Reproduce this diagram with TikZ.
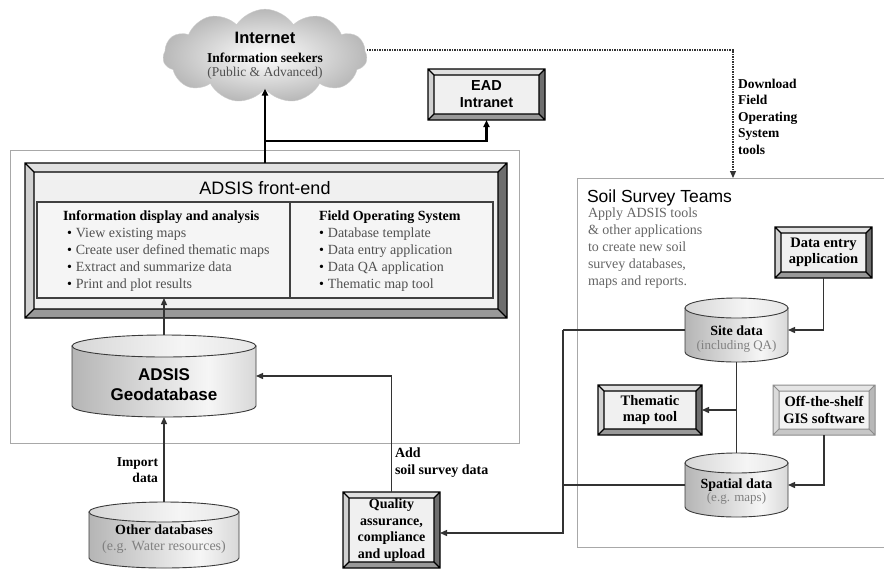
\documentclass[tikz,border=0pt]{standalone}
\usepackage{fontspec}
\setmainfont{Liberation Serif}
\setsansfont{Liberation Sans}
\usetikzlibrary{arrows.meta,calc,shapes.symbols}
\definecolor{lineg}{HTML}{333333}
\definecolor{frameg}{HTML}{A8A8A8}
\definecolor{txtg}{HTML}{505050}
\definecolor{descg}{HTML}{666666}
\definecolor{lightg}{HTML}{808080}
\definecolor{cloudg}{HTML}{B8B8B8}
\definecolor{cylline}{HTML}{3A3A3A}
\definecolor{cA}{HTML}{8A8A8A}
\definecolor{cB}{HTML}{B5B5B5}
\definecolor{cC}{HTML}{F6F6F6}
\definecolor{cD}{HTML}{9E9E9E}
\definecolor{tA}{HTML}{BDBDBD}
\definecolor{tB}{HTML}{F5F5F5}
\definecolor{tC}{HTML}{D2D2D2}
\pgfdeclarehorizontalshading{cylbody}{100bp}{color(0bp)=(cA); color(25bp)=(cB); color(62bp)=(cC); color(100bp)=(cD)}
\pgfdeclarehorizontalshading{cyltop}{100bp}{color(0bp)=(tA); color(55bp)=(tB); color(100bp)=(tC)}
\newcommand{\fsz}[2]{\fontsize{#1}{#2}\selectfont}
\newcommand{\bevat}[6]{%
  \fill[#6face] (#1,#2) rectangle (#3,#4);
  \fill[#6top] (#1,#2) -- (#3,#2) -- ({#3-#5},{#2+#5}) -- ({#1+#5},{#2+#5}) -- cycle;
  \fill[#6left] (#1,#2) -- ({#1+#5},{#2+#5}) -- ({#1+#5},{#4-#5}) -- (#1,#4) -- cycle;
  \fill[#6right] (#3,#2) -- (#3,#4) -- ({#3-#5},{#4-#5}) -- ({#3-#5},{#2+#5}) -- cycle;
  \fill[#6bot] (#1,#4) -- (#3,#4) -- ({#3-#5},{#4-#5}) -- ({#1+#5},{#4-#5}) -- cycle;
  \draw[#6line] (#1,#2) rectangle (#3,#4) ({#1+#5},{#2+#5}) rectangle ({#3-#5},{#4-#5})
     (#1,#2) -- ({#1+#5},{#2+#5}) (#3,#2) -- ({#3-#5},{#2+#5})
     (#3,#4) -- ({#3-#5},{#4-#5}) (#1,#4) -- ({#1+#5},{#4-#5});
}
\newcommand{\cylat}[5]{%
  \shade[shading=cylbody, draw=cylline, line width=0.9pt] ({#1-#2},{#3+#5}) -- ({#1-#2},{#4-#5})
     arc[start angle=180, end angle=360, x radius=#2pt, y radius=#5pt] -- ({#1+#2},{#3+#5}) -- cycle;
  \shade[shading=cyltop, draw=cylline, line width=0.9pt] (#1,{#3+#5}) ellipse[x radius=#2pt, y radius=#5pt];
}
\begin{document}
\begin{tikzpicture}[x=1pt, y=-1pt,
  every node/.style={inner sep=0pt, outer sep=0pt},
  conn/.style={draw=lineg, line width=1.3pt},
  thickconn/.style={draw=black, line width=2.2pt},
  arr/.style={-{Triangle[length=7pt,width=6pt]}},
  dotconn/.style={draw=lineg, line width=1.1pt, dash pattern=on 1.2pt off 1.3pt},
  frame/.style={draw=frameg, line width=1pt},
  bvdface/.style={fill=black!6},
  bvdtop/.style={fill=black!12},
  bvdleft/.style={fill=black!18},
  bvdright/.style={fill=black!57},
  bvdbot/.style={fill=black!40},
  bvdline/.style={draw=black, line width=1.1pt},
  bvlface/.style={fill=black!5},
  bvltop/.style={fill=black!10},
  bvlleft/.style={fill=black!14},
  bvlright/.style={fill=black!28},
  bvlbot/.style={fill=black!22},
  bvlline/.style={draw=black!45, line width=1pt},
  boxtxt/.style={font=\bfseries\fsz{14.5}{16.5}, align=center},
]
\clip (0,0) rectangle (884,571);
\fill[white] (0,0) rectangle (884,571);

% frames
\node[frame, minimum width=509pt, minimum height=293pt, anchor=north west] (leftframe) at (10,150) {};
\node[frame, minimum width=330pt, minimum height=369pt, anchor=north west] (soil) at (577,178) {};

% cloud
\node[cloud, cloud puffs=11, cloud puff arc=115, aspect=2.3, minimum width=204pt, minimum height=90pt,
      draw=black!20, shading=radial, inner color=white, outer color=cloudg, align=center,
      font=\fsz{13.5}{14.5}] (cloud) at (265,56)
  {{\sffamily\bfseries\fsz{16.5}{19}Internet}\\[4pt]{\bfseries Information seekers}\\{\color{txtg}(Public \& Advanced)}};

% EAD Intranet
\bevat{428}{69}{545}{120}{6}{bvd}
\node[font=\sffamily\bfseries\fsz{14.5}{17}, align=center, minimum width=117pt, minimum height=51pt] (ead) at (486.5,94.5) {EAD\\Intranet};

% front-end
\bevat{25}{163}{507}{318}{9}{bvd}
\node[minimum width=482pt, minimum height=155pt] (fe) at (266,240.5) {};
\node[font=\sffamily\fsz{18}{20}] (fetitle) at (265,188) {ADSIS front-end};
\node[draw=black!75, line width=1.2pt, fill=black!4, minimum width=253pt, minimum height=96pt] (tblL) at (163.5,250) {};
\node[draw=black!75, line width=1.2pt, fill=black!4, minimum width=203pt, minimum height=96pt] (tblR) at (391.5,250) {};
\node[anchor=north west, align=left, font=\fsz{14}{17}] (colL) at (63,211)
  {\textbf{Information display and analysis}\\
   \hspace*{4pt}\textbullet\hspace{4pt}{\color{txtg}View existing maps}\\
   \hspace*{4pt}\textbullet\hspace{4pt}{\color{txtg}Create user defined thematic maps}\\
   \hspace*{4pt}\textbullet\hspace{4pt}{\color{txtg}Extract and summarize data}\\
   \hspace*{4pt}\textbullet\hspace{4pt}{\color{txtg}Print and plot results}};
\node[anchor=north west, align=left, font=\fsz{14}{17}] (colR) at (319,211)
  {\textbf{Field Operating System}\\
   \textbullet\hspace{4pt}{\color{txtg}Database template}\\
   \textbullet\hspace{4pt}{\color{txtg}Data entry application}\\
   \textbullet\hspace{4pt}{\color{txtg}Data QA application}\\
   \textbullet\hspace{4pt}{\color{txtg}Thematic map tool}};

% Geodatabase
\cylat{164}{92}{335}{417}{11}
\node[minimum width=184pt, minimum height=82pt] (geo) at (164,376) {};
\node[font=\sffamily\bfseries\fsz{17}{20}, align=center] (geolbl) at (164,385) {ADSIS\\Geodatabase};

% Other databases
\cylat{164}{75}{502}{568}{10}
\node[minimum width=150pt, minimum height=66pt] (odb) at (164,535) {};
\node[align=center, font=\fsz{14}{16}] (odblbl) at (164,539) {\textbf{Other databases}\\{\color{lightg}(e.g. Water resources)}};

% Quality
\bevat{343}{492}{440}{568}{6}{bvd}
\node[boxtxt, font=\bfseries\fsz{14}{16.5}, minimum width=97pt, minimum height=76pt] (qa) at (391.5,530) {Quality\\assurance,\\compliance\\and upload};

% soil team texts
\node[anchor=base west, font=\sffamily\fsz{17.5}{20}] (soiltitle) at (587,202) {Soil Survey Teams};
\node[anchor=north west, align=left, font=\fsz{14}{17}, text=descg] (soildesc) at (588,208)
  {Apply ADSIS tools\\\& other applications\\to create new soil\\survey databases,\\maps and reports.};

% Data entry
\bevat{775}{227}{872}{278}{6}{bvd}
\node[boxtxt, minimum width=97pt, minimum height=51pt] (de) at (823.5,252.5) {Data entry\\application};

% Site data
\cylat{736.5}{51.5}{298}{362}{10}
\node[minimum width=103pt, minimum height=64pt] (site) at (736.5,330) {};
\node[align=center, font=\fsz{14}{14}] (sitelbl) at (736.5,339) {\textbf{Site data}\\{\color{lightg}\fsz{13}{13}(including QA)}};

% Spatial data
\cylat{736.5}{51.5}{453}{517}{10}
\node[minimum width=103pt, minimum height=64pt] (spat) at (736.5,485) {};
\node[align=center, font=\fsz{14}{13}] (spatlbl) at (736.5,492) {\textbf{Spatial data}\\{\color{lightg}\fsz{13}{13}(e.g. maps)}};

% Thematic map tool
\bevat{598}{385}{702}{435}{6}{bvd}
\node[boxtxt, minimum width=104pt, minimum height=50pt] (them) at (650,410) {Thematic\\map tool};

% Off-the-shelf
\bevat{773}{385}{875}{435}{6}{bvl}
\node[boxtxt, minimum width=102pt, minimum height=50pt] (ots) at (824,410) {Off-the-shelf\\GIS software};

% connectors
\coordinate (br) at (265,141);
\draw[thickconn, arr] (cloud.south |- fe.north) -- (cloud.south);
\draw[thickconn, arr] (br) -| (ead.south);
\coordinate (dl) at (733,50);
\draw[dotconn, arr] (cloud.east |- dl) -- (dl) -- (dl |- soil.north);
\node[anchor=north west, align=left, font=\bfseries\fsz{13.5}{16.5}] (dllbl) at (738,79) {Download\\Field\\Operating\\System\\tools};

\draw[conn, arr] (geo.north) -- (geo.north |- tblL.south);
\draw[conn, arr] (odb.north) -- (geo.south);
\node[anchor=east, align=right, font=\bfseries\fsz{13.5}{16}] (implbl) at (158,470) {Import\\data};

\draw[conn, arr] (qa.north) |- (geo.east);
\node[anchor=north west, align=left, font=\bfseries\fsz{14}{17}] (addlbl) at (395,448) {Add\\soil survey data};

\draw[conn, arr] (de.south) |- (site.east);
\draw[conn] (site.south) -- (spat.north);
\coordinate (tb) at (736.5,410);
\draw[conn, arr] (tb) -- (them.east);
\draw[conn, arr] (ots.south) |- (spat.east);

\coordinate (j1) at (563,330);
\coordinate (j2) at (563,533);
\draw[conn] (site.west) -- (j1);
\draw[conn] (spat.west) -- (spat.west -| j1);
\draw[conn, arr] (j1) -- (j2) -- (qa.east |- j2);
\end{tikzpicture}
\end{document}
